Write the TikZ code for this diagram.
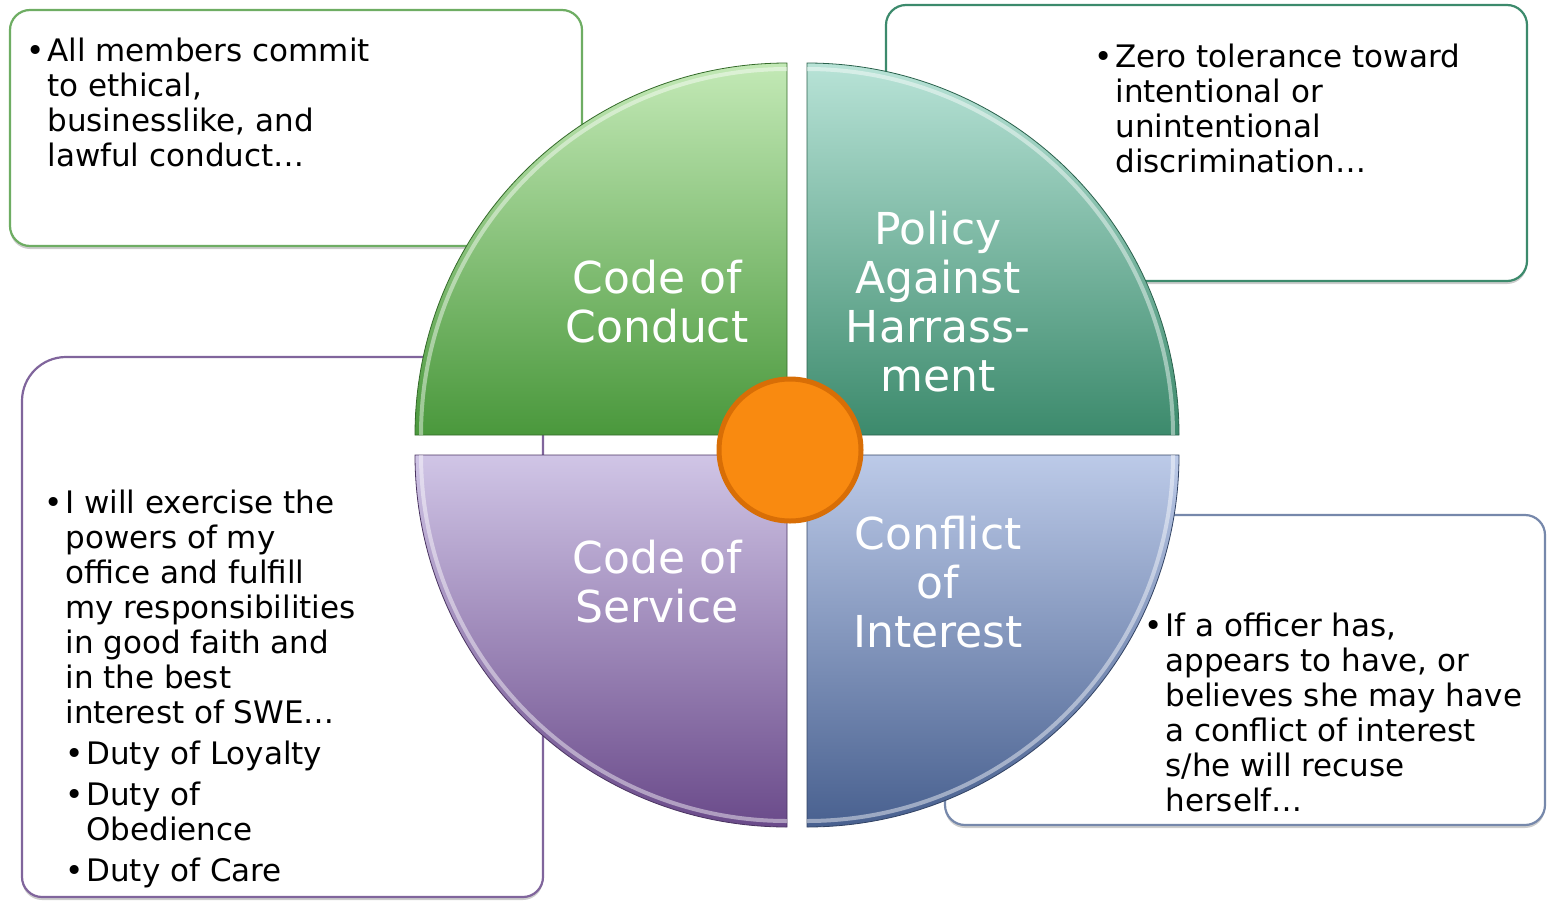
\documentclass[tikz,border=0pt]{standalone}
\usepackage{fontspec}
\setmainfont{DejaVu Sans}
\usetikzlibrary{shadows}

\definecolor{conducttop}{HTML}{C3E9B6}
\definecolor{conductbot}{HTML}{4A983C}
\definecolor{policytop}{HTML}{B8E3D7}
\definecolor{policybot}{HTML}{3C8A6C}
\definecolor{servicetop}{HTML}{D0C5E6}
\definecolor{servicebot}{HTML}{6A4A8A}
\definecolor{conflicttop}{HTML}{BCCAE8}
\definecolor{conflictbot}{HTML}{48608F}
\definecolor{hubfill}{HTML}{F98A10}
\definecolor{hubedge}{HTML}{D86E06}

\newcommand{\itembullet}{\llap{•\hspace{1.5pt}}}

\tikzset{
  infobox/.style={line width=1.1pt, fill=white, rounded corners=10pt,
    drop shadow={shadow xshift=0pt, shadow yshift=-1.5pt, opacity=.4}},
  bodytext/.style={anchor=north west, inner sep=0pt, align=left,
    font=\fontsize{15.5}{17.5}\selectfont},
  quadtext/.style={text=white, align=center, inner sep=0pt,
    font=\fontsize{22}{24.5}\selectfont},
  rim/.style={white, opacity=.45, line width=2pt},
  hub/.style={circle, fill=hubfill, draw=hubedge, line width=2.5pt,
    minimum size=71pt, inner sep=0pt},
}

\begin{document}
\begin{tikzpicture}[x=0.5pt, y=-0.5pt]
    \useasboundingbox (0,0) rectangle (1547,900);

    % boxes behind the circle
    \draw[infobox, draw=conductbot!80] (10,10) rectangle (582,246);
    \draw[infobox, draw=policybot] (886,5) rectangle (1527,281);
    \draw[infobox, draw=servicebot!85] (300,357) -- (543,357) -- (543,897) -- (22,897) -- (22,600)
        [rounded corners=22pt] -- (22,357) -- cycle;
    \draw[infobox, draw=conflictbot!75] (945,515) rectangle (1545,825);

    % the four quarters
    \shade[top color=conducttop, bottom color=conductbot, draw=conductbot!70!black, line width=.4pt]
        (787,435) -- ++(-186pt,0pt) arc[start angle=180, end angle=90, radius=186pt] -- cycle;
    \shade[top color=policytop, bottom color=policybot, draw=policybot!70!black, line width=.4pt]
        (807,435) -- ++(0pt,186pt) arc[start angle=90, end angle=0, radius=186pt] -- cycle;
    \shade[top color=servicetop, bottom color=servicebot, draw=servicebot!70!black, line width=.4pt]
        (787,455) -- ++(-186pt,0pt) arc[start angle=180, end angle=270, radius=186pt] -- cycle;
    \shade[top color=conflicttop, bottom color=conflictbot, draw=conflictbot!70!black, line width=.4pt]
        (807,455) -- ++(186pt,0pt) arc[start angle=0, end angle=-90, radius=186pt] -- cycle;

    % light rim along the arcs
    \draw[rim] (787,435) ++(180:183pt) arc[start angle=180, end angle=90, radius=183pt];
    \draw[rim] (807,435) ++(90:183pt) arc[start angle=90, end angle=0, radius=183pt];
    \draw[rim] (787,455) ++(180:183pt) arc[start angle=180, end angle=270, radius=183pt];
    \draw[rim] (807,455) ++(0:183pt) arc[start angle=0, end angle=-90, radius=183pt];

    \node[hub] (hub) at (790,450) {};

    \node[quadtext] (conduct) at (657,302) {Code of\\Conduct};
    \node[quadtext] (policy) at (938,302) {Policy\\Against\\Harrass-\\ment};
    \node[quadtext] (service) at (657,582) {Code of\\Service};
    \node[quadtext] (conflict) at (938,582) {Conflict\\of\\Interest};

    \node[bodytext] (conducttext) at (47,38) {\itembullet All members commit\\to ethical,\\businesslike, and\\lawful conduct…};
    \node[bodytext] (policytext) at (1115,44) {\itembullet Zero tolerance toward\\intentional or\\unintentional\\discrimination…};
    \node[bodytext] (servicetext) at (65,490) {\itembullet I will exercise the\\powers of my\\office and fulfill\\my responsibilities\\in good faith and\\in the best\\interest of SWE…\\[3pt]
        \hspace*{10.5pt}\itembullet Duty of Loyalty\\[3pt]
        \hspace*{10.5pt}\itembullet Duty of\\
        \hspace*{10.5pt}Obedience\\[3pt]
        \hspace*{10.5pt}\itembullet Duty of Care};
    \node[bodytext] (conflicttext) at (1165,613) {\itembullet If a officer has,\\appears to have, or\\believes she may have\\a conflict of interest\\s/he will recuse\\herself…};
\end{tikzpicture}
\end{document}
